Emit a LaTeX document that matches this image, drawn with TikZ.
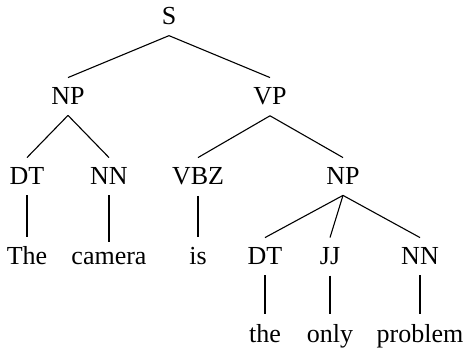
\documentclass[tikz,border=0pt]{standalone}
\usepackage{fontspec}
\setmainfont{Liberation Serif}
\usetikzlibrary{positioning}

\begin{document}
\begin{tikzpicture}[auto,node distance=40pt,
			tag/.style={inner sep=5pt,font=\fontsize{13}{15}\selectfont},
			every edge/.style={draw,line width=0.55pt}]
			\useasboundingbox (-84.5pt,12.5pt) rectangle (147.5pt,-163pt);
			\node[tag,anchor=base] (nodeS) at (0,0) {S};
			\node[tag] (nodeNP) [below left=40pt and 50.5pt of nodeS.base, anchor=base] {NP};
			\node[tag] (nodeVP) [below right=40pt and 50.5pt of nodeS.base, anchor=base] {VP};
			\node[tag] (nodeDT) [below left=40pt and 20.5pt of nodeNP.base, anchor=base] {DT};
			\node[tag] (nodeNN) [below right=40pt and 20.5pt of nodeNP.base, anchor=base] {NN};
			\node[tag] (nodeVBZ) [below left=40pt and 36pt of nodeVP.base, anchor=base] {VBZ};
			\node[tag] (nodeNPR) [below right=40pt and 36.5pt of nodeVP.base, anchor=base] {NP};
			\node[tag] (nodeThe) [below=of nodeDT.base, anchor=base] {The};
			\node[tag] (nodeCamera) [below=of nodeNN.base, anchor=base] {camera};
			\node[tag] (nodeIs) [below=of nodeVBZ.base, anchor=base] {is};
			\node[tag] (nodeDTR) [below left=40pt and 39pt of nodeNPR.base, anchor=base] {DT};
			\node[tag] (nodeJJ) [below left=40pt and 6.5pt of nodeNPR.base, anchor=base] {JJ};
			\node[tag] (nodeNNR) [below right=40pt and 38.5pt of nodeNPR.base, anchor=base] {NN};
			\node[tag] (nodeThe2) [below=38.5pt of nodeDTR.base, anchor=base] {the};
			\node[tag] (nodeOnly) [below=38.5pt of nodeJJ.base, anchor=base] {only};
			\node[tag] (nodeProblem) [below=38.5pt of nodeNNR.base, anchor=base] {problem};
			\path (nodeS.south) edge (nodeNP.north);
			\path (nodeS.south) edge (nodeVP.north);
			\path (nodeNP.south) edge (nodeDT.north);
			\path (nodeNP.south) edge (nodeNN.north);
			\path (nodeVP.south) edge (nodeVBZ.north);
			\path (nodeVP.south) edge (nodeNPR.north);
			\path (nodeDT.south) edge (nodeThe.north);
			\path (nodeNN.south) edge (nodeCamera.north);
			\path (nodeVBZ.south) edge (nodeIs.north);
			\path (nodeNPR.south) edge (nodeDTR.north);
			\path (nodeNPR.south) edge (nodeJJ.north);
			\path (nodeNPR.south) edge (nodeNNR.north);
			\path (nodeDTR.south) edge (nodeThe2.north);
			\path (nodeJJ.south) edge (nodeOnly.north);
			\path (nodeNNR.south) edge (nodeProblem.north);
		\end{tikzpicture}
\end{document}
